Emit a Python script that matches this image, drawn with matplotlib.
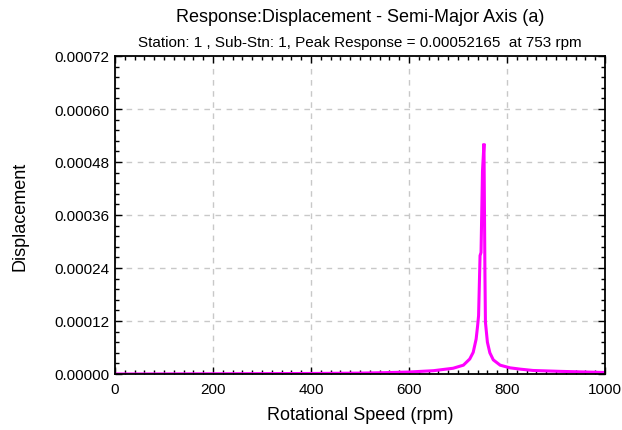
import numpy as np
import matplotlib
matplotlib.use("Agg")
import matplotlib.pyplot as plt
from matplotlib.ticker import MultipleLocator, FormatStrFormatter

plt.rcParams['font.family'] = ['Liberation Sans', 'DejaVu Sans']

# frequency response
rpm = [0, 100, 200, 300, 400, 500, 550, 600, 650, 690, 711, 724, 731, 737,
       740, 742, 745, 747, 750, 753, 755, 756, 760, 765, 772, 786, 806, 827,
       853, 908, 960, 1000]
disp = [0.0, 0.2e-6, 0.5e-6, 0.8e-6, 1.2e-6, 2.0e-6, 3.0e-6, 4.5e-6, 7.5e-6,
        1.3e-5, 2.0e-5, 3.4e-5, 4.9e-5, 7.9e-5, 1.09e-4, 1.32e-4, 2.68e-4,
        2.75e-4, 4.6e-4, 5.2165e-4, 2.23e-4, 1.17e-4, 7.2e-5, 4.8e-5, 3.2e-5,
        2.0e-5, 1.4e-5, 1.1e-5, 8.0e-6, 6.0e-6, 4.5e-6, 3.5e-6]

fig = plt.figure(figsize=(6.22, 4.31), dpi=100)
ax = fig.add_axes([115/622, 56/431, 490/622, 318/431])

ax.plot(rpm, disp, color='#ff00ff', lw=2.2, solid_joinstyle='miter')

ax.set_xlim(0, 1000)
ax.set_ylim(0, 0.00072)
ax.xaxis.set_major_locator(MultipleLocator(200))
ax.xaxis.set_minor_locator(MultipleLocator(20))
ax.yaxis.set_major_locator(MultipleLocator(0.00012))
ax.yaxis.set_minor_locator(MultipleLocator(0.000024))
ax.yaxis.set_major_formatter(FormatStrFormatter('%.5f'))

ax.tick_params(which='both', direction='in', top=True, right=True,
               labelsize=11, colors='black')
ax.tick_params(which='major', length=5, width=1)
ax.tick_params(which='minor', length=3, width=1)
ax.tick_params(axis='x', pad=6)
ax.tick_params(axis='y', pad=4)
for s in ax.spines.values():
    s.set_linewidth(1.3)

ax.grid(True, which='major', color='#c8c8c8', linestyle=(0, (4, 4)), lw=1)
ax.set_axisbelow(True)

ax.set_xlabel('Rotational Speed (rpm)', fontsize=13, labelpad=7)
ax.set_ylabel('Displacement', fontsize=13)
ax.yaxis.set_label_coords(-0.176, 0.5)

fig.text(360/622, 1 - 18/431, 'Response:Displacement - Semi-Major Axis (a)',
         ha='center', va='center', fontsize=13)
fig.text(360/622, 1 - 43/431,
         'Station: 1 , Sub-Stn: 1, Peak Response = 0.00052165  at 753 rpm',
         ha='center', va='center', fontsize=11)

fig.savefig('out.png', dpi=100)
